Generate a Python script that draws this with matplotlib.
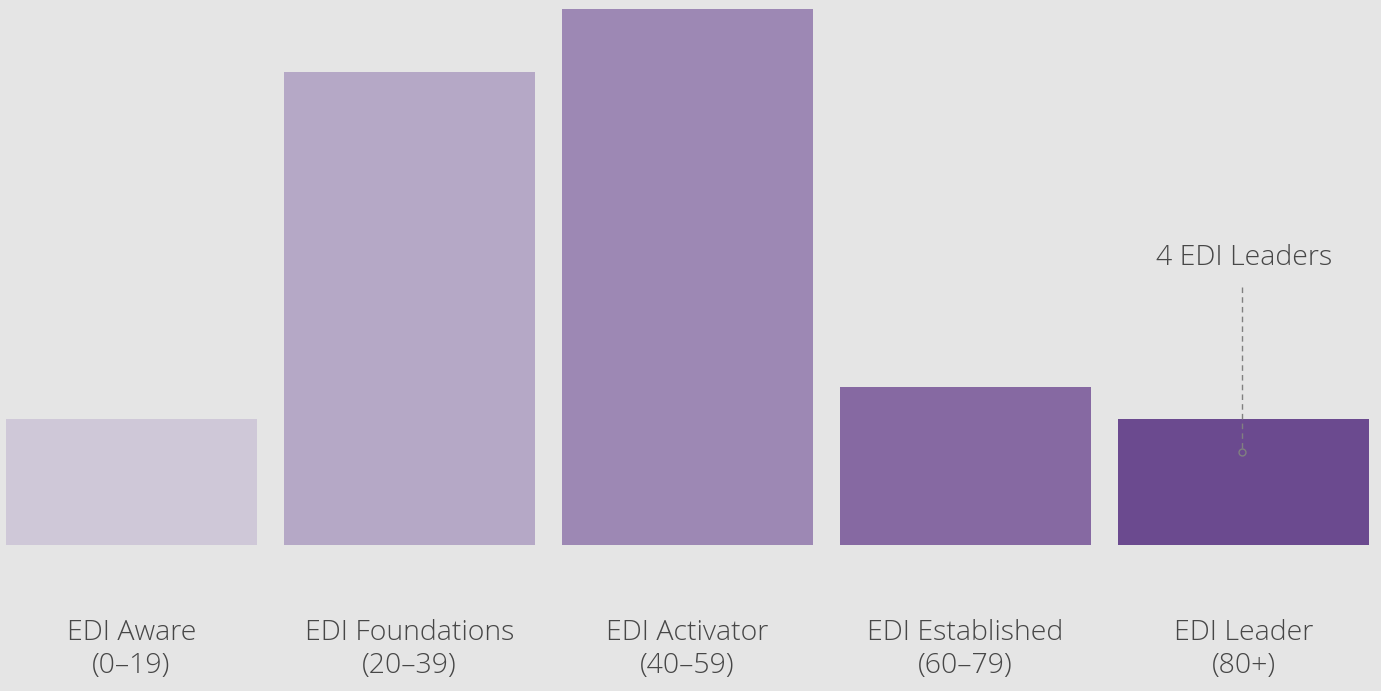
import matplotlib
matplotlib.use("Agg")
import matplotlib.pyplot as plt

# data
categories = ["EDI Aware\n(0–19)", "EDI Foundations\n(20–39)", "EDI Activator\n(40–59)",
              "EDI Established\n(60–79)", "EDI Leader\n(80+)"]
counts = [4, 15, 17, 5, 4]
colors = ["#cfc8d8", "#b5a8c6", "#9d88b4", "#8669a2", "#6b4a8f"]
callout_text = "4 EDI Leaders"

plt.rcParams['font.family'] = ['Open Sans', 'DejaVu Sans']
bg = "#e5e5e5"
txt = "#474747"

fig = plt.figure(figsize=(13.81, 6.91), dpi=100, facecolor=bg)
ax = fig.add_axes([0, 0, 1, 1])
ax.set_facecolor(bg)

x = list(range(len(counts)))
ax.bar(x, counts, width=0.903, color=colors)

for i, lab in enumerate(categories):
    ax.text(i, -3.31, lab, ha="center", va="center", fontsize=20.5, color=txt,
            linespacing=1.22, weight="light")

# callout on the leader bar
lx = len(counts) - 1
ax.text(lx, 9.11, callout_text, ha="center", va="center", fontsize=20.5,
        color=txt, weight="light")
ax.plot([lx - 0.006, lx - 0.006], [8.2, 2.95], color="#808080", lw=1, ls=(0, (4, 3)))
ax.plot(lx - 0.006, 2.95, marker="o", ms=5, mfc="none", mec="#808080", mew=1)

ax.set_xlim(-0.473, 4.494)
ax.set_ylim(-4.635, 17.30)
ax.axis("off")

fig.savefig("out.png", dpi=100, facecolor=bg)
